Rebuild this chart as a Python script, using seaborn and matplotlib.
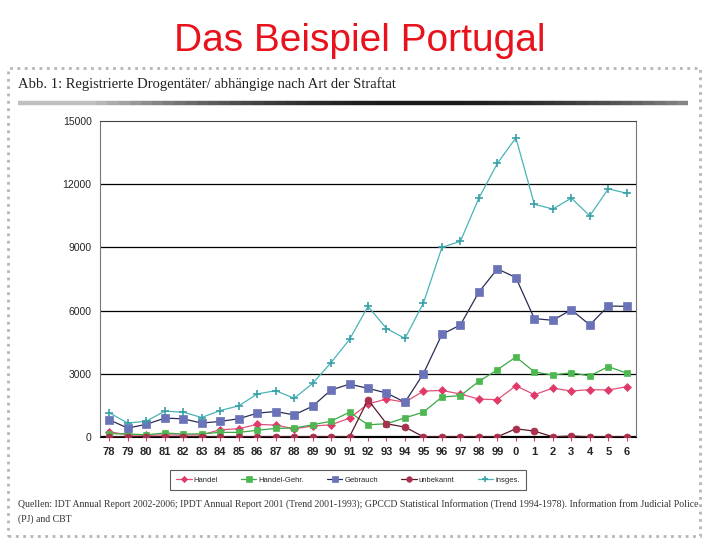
import numpy as np
import pandas as pd
import matplotlib
matplotlib.use("Agg")
import matplotlib.pyplot as plt
import seaborn as sns
from matplotlib.lines import Line2D
from matplotlib.patches import Rectangle

# Daten
years = ['78', '79', '80', '81', '82', '83', '84', '85', '86', '87', '88', '89', '90', '91',
         '92', '93', '94', '95', '96', '97', '98', '99', '0', '1', '2', '3', '4', '5', '6']

handel = [250, 100, 80, 100, 90, 100, 345, 390, 600, 565, 390, 520, 580, 895, 1570,
          1800, 1650, 2180, 2210, 2040, 1800, 1770, 2430, 2010, 2320, 2180, 2250, 2230, 2390]
handel_gehr = [150, 150, 100, 190, 140, 150, 220, 220, 315, 410, 425, 580, 750, 1180, 580,
               630, 910, 1180, 1900, 1960, 2640, 3190, 3800, 3090, 2940, 3050, 2900, 3340, 3030]
gebrauch = [816, 424, 600, 895, 864, 660, 740, 864, 1130, 1210, 1050, 1460, 2230, 2510, 2310,
            2090, 1650, 3010, 4870, 5320, 6880, 7980, 7570, 5620, 5540, 6040, 5320, 6220, 6200]
unbekannt = [20, 10, 10, 10, 10, 10, 10, 10, 10, 10, 10, 10, 10, 10, 1770,
             630, 470, 10, 10, 10, 10, 10, 390, 280, 10, 50, 10, 10, 10]
insges = [1150, 660, 750, 1225, 1180, 925, 1256, 1475, 2040, 2200, 1840, 2540, 3530, 4630, 6200,
          5150, 4680, 6360, 9000, 9290, 11340, 12990, 14200, 11050, 10820, 11340, 10500, 11780, 11570]

series_names = ['Handel', 'Handel-Gehr.', 'Gebrauch', 'unbekannt', 'insges.']
series_values = [handel, handel_gehr, gebrauch, unbekannt, insges]

yticks = [0, 3000, 6000, 9000, 12000, 15000]

# Stil je Reihe: (Linienfarbe, Markerfarbe, Marker, Markergroesse)
styles = {
    'Handel': ('#e0507a', '#e03a68', 'D', 4),
    'Handel-Gehr.': ('#3aa845', '#4cb84f', 's', 5),
    'Gebrauch': ('#2a2d55', '#6b73b8', 's', 6),
    'unbekannt': ('#5a1a2a', '#a8304c', 'o', 5),
    'insges.': ('#48b4b8', '#3aa0a8', '+', 6),
}

sns.set_style("white")
plt.rcParams['font.family'] = ['Liberation Sans', 'DejaVu Sans']

fig = plt.figure(figsize=(7.2, 5.4), dpi=100)
W, H = 720, 540

# Titel
fig.text(0.5, 1 - 41 / H, 'Das Beispiel Portugal', color='#e8121c', fontsize=28,
         ha='center', va='center')

# Rahmen der eingescannten Seite
fig.patches.append(Rectangle((8 / W, 1 - 536 / H), 692 / W, 468 / H, transform=fig.transFigure,
                             fill=False, edgecolor='#b5b5b5', lw=2, ls=':'))

# Ueberschrift der Abbildung
fig.text(18 / W, 1 - 84 / H, 'Abb. 1: Registrierte Drogentäter/ abhängige nach Art der Straftat',
         family='Liberation Serif', fontsize=10.5, ha='left', va='center', color='#222222')

# dicke Trennlinie mit Verlauf
n_seg = 60
xs = np.linspace(18, 688, n_seg + 1)
for i in range(n_seg):
    t = (xs[i] + xs[i + 1]) / 2
    shade = 0.1 + 0.55 * (abs(t - 420) / 300) ** 2
    fig.add_artist(Line2D([xs[i] / W, xs[i + 1] / W], [1 - 103 / H] * 2, lw=3.2,
                          color=str(min(shade, 0.75)), solid_capstyle='butt'))

# Diagramm
ax = fig.add_axes([100 / W, 1 - 437 / H, 536 / W, 316 / H])
x = np.arange(len(years))
for name, vals in zip(series_names, series_values):
    lc, mc, mk, ms = styles[name]
    df = pd.DataFrame({'Jahr': x, 'Anzahl': vals})
    sns.lineplot(data=df, x='Jahr', y='Anzahl', ax=ax, color=lc, lw=0.9, marker=mk,
                 markersize=ms, markerfacecolor=mc, markeredgecolor=mc,
                 markeredgewidth=1.2 if mk == '+' else 0.5, label=name, zorder=3)

ax.set_xlim(-0.5, len(years) - 0.5)
ax.set_ylim(0, 15000)
ax.set_yticks(yticks)
ax.set_yticklabels([str(v) for v in yticks], fontsize=7.5)
ax.set_xticks(x)
ax.set_xticklabels(years, fontsize=8, fontweight='bold')
ax.set_xlabel('')
ax.set_ylabel('')
for v in yticks[1:-1]:
    ax.axhline(v, color='black', lw=0.9, zorder=1)
ax.axhline(0, color='black', lw=1.6, zorder=2)
for s in ['left', 'right', 'top']:
    ax.spines[s].set_color('#777777')
    ax.spines[s].set_linewidth(0.8)
ax.spines['top'].set_color('#444444')
ax.spines['bottom'].set_color('black')
ax.tick_params(axis='x', length=3, width=0.8, color='#d04060', pad=4, direction='out', bottom=True)
ax.tick_params(axis='y', length=0, pad=6)

handles, labels = ax.get_legend_handles_labels()
ax.get_legend().remove()
leg = fig.legend(handles, labels, loc='center', bbox_to_anchor=(348 / W, 1 - 480 / H), ncol=5,
                 fontsize=5.5, frameon=True, fancybox=False, edgecolor='#333333',
                 handlelength=2.0, handletextpad=0.3, columnspacing=3.0, borderpad=0.8,
                 markerscale=0.8)
leg.get_frame().set_linewidth(0.8)

# Quellenangabe
fig.text(18 / W, 1 - 504 / H,
         'Quellen: IDT Annual Report 2002-2006; IPDT Annual Report 2001 (Trend 2001-1993); '
         'GPCCD Statistical Information (Trend 1994-1978). Information from Judicial Police',
         family='Liberation Serif', fontsize=7.0, ha='left', va='center', color='#333333')
fig.text(18 / W, 1 - 519 / H, '(PJ) and CBT', family='Liberation Serif', fontsize=7.0,
         ha='left', va='center', color='#333333')

fig.savefig('out.png', dpi=100)
